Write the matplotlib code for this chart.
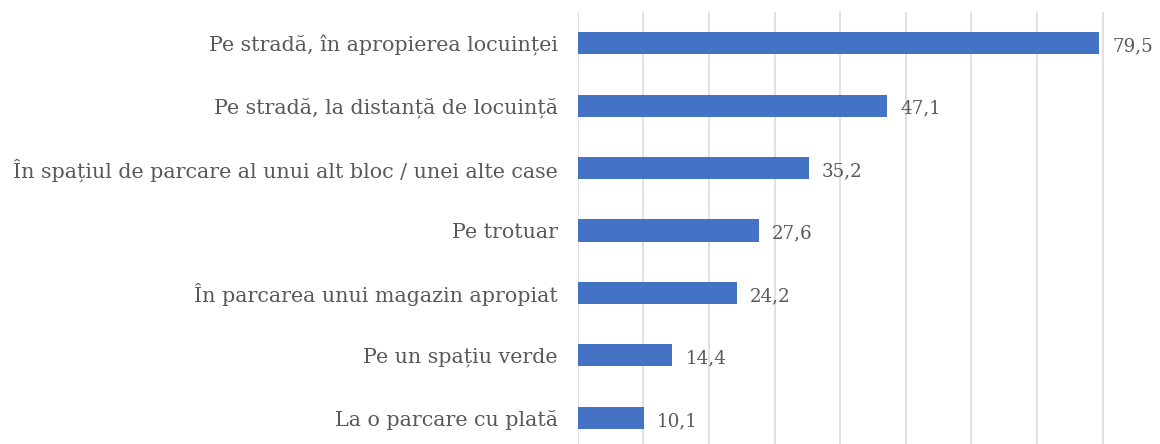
import matplotlib
matplotlib.use("Agg")
import matplotlib.pyplot as plt

categories = [
    "Pe stradă, în apropierea locuinței",
    "Pe stradă, la distanță de locuință",
    "În spațiul de parcare al unui alt bloc / unei alte case",
    "Pe trotuar",
    "În parcarea unui magazin apropiat",
    "Pe un spațiu verde",
    "La o parcare cu plată",
]
values = [79.5, 47.1, 35.2, 27.6, 24.2, 14.4, 10.1]
value_labels = ["79,5", "47,1", "35,2", "27,6", "24,2", "14,4", "10,1"]
grid_ticks = [0, 10, 20, 30, 40, 50, 60, 70, 80]

W, H, DPI = 1160, 444, 100
fig = plt.figure(figsize=(W / DPI, H / DPI), dpi=DPI)
left = 577.8 / W
top_px, bottom_px = 12, 449
ax = fig.add_axes([left, (H - bottom_px) / H, 1 - left, (bottom_px - top_px) / H])

text_color = "#595959"
font = "DejaVu Serif"

pos = list(range(len(categories)))
ax.barh(pos, values, height=0.355, color="#4472C4", zorder=3)
for p, v, lab in zip(pos, values, value_labels):
    ax.text(v + 2.0, p + 0.05, lab, va="center", ha="left", fontsize=13.2,
            color=text_color, family=font)

ax.set_xlim(0, (W - 577.8) / 6.56)
ax.set_ylim(len(categories) - 0.5, -0.5)
ax.set_xticks(grid_ticks)
ax.tick_params(axis="x", length=0, labelbottom=False)
ax.tick_params(axis="y", length=0, pad=14.5)
ax.set_yticks(pos)
ax.set_yticklabels(categories, fontsize=14.9, color=text_color, family=font)
ax.grid(axis="x", color="#D9D9D9", linewidth=1.1, zorder=0)
for s in ax.spines.values():
    s.set_visible(False)

fig.savefig("out.png", dpi=DPI)
